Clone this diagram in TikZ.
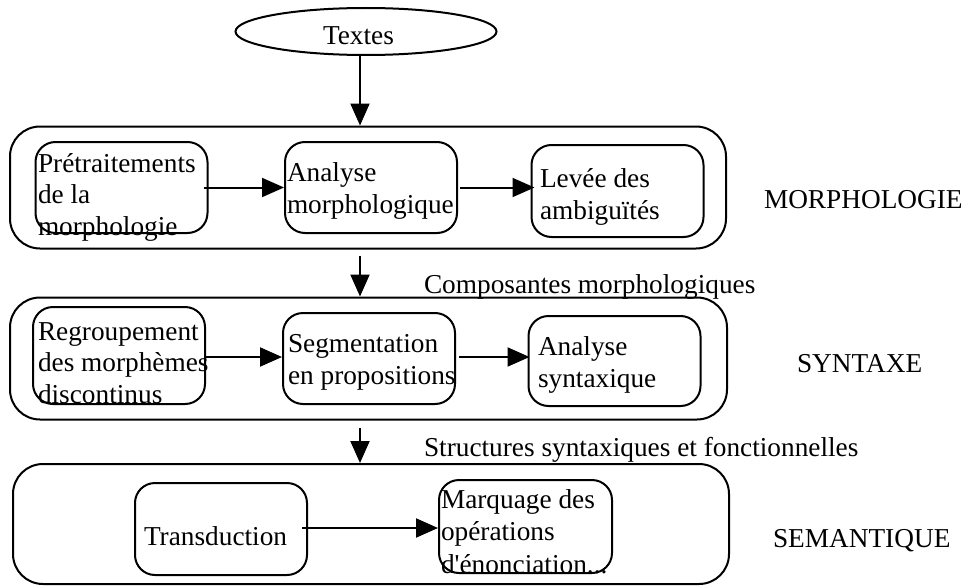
\documentclass[tikz,border=0pt]{standalone}
\usepackage{fontspec}
\setmainfont{Liberation Serif}
\usetikzlibrary{arrows.meta,shapes.geometric}
\begin{document}
\begin{tikzpicture}[x=1pt,y=-1pt,
  line width=2pt,
  outerbox/.style={draw,rounded corners=30pt,minimum width=716pt,minimum height=122pt,inner sep=0pt},
  stepbox/.style={draw,rounded corners=20pt,minimum width=172pt,minimum height=91pt,inner sep=0pt},
  txt/.style={anchor=base west,inner sep=0pt,align=left,font=\fontsize{27.3}{31.5}\selectfont},
  arr/.style={-{Triangle[length=22pt,width=19pt]}}]
\useasboundingbox (0,0) rectangle (966,586);

% input
\node[draw,ellipse,minimum width=261pt,minimum height=47pt,inner sep=0pt] (textes) at (366,31.5) {};
\node[txt] (ttextes) at (322,45) {Textes};

% outer layers
\node[outerbox] (morph) at (368,187.5) {};
\node[outerbox,minimum width=717pt] (syn) at (368.5,358.5) {};
\node[outerbox,minimum height=120pt] (sem) at (371,524) {};

% morphology steps (text nodes are placed by the baseline of their last line)
\node[stepbox] (m1) at (121.5,187.5) {};
\node[stepbox] (m2) at (371,187.5) {};
\node[stepbox,minimum height=92pt] (m3) at (617.5,191) {};
\node[txt] (tm1) at (37,235) {Prétraitements\\de la\\morphologie};
\node[txt] (tm2) at (286,213) {Analyse\\morphologique};
\node[txt] (tm3) at (539,219) {Levée des\\ambiguïtés};
\node[txt] (lmorph) at (763,208) {MORPHOLOGIE};

% syntax steps
\node[stepbox,minimum height=97pt] (s1) at (119,355.5) {};
\node[stepbox] (s2) at (369,358.5) {};
\node[stepbox,minimum height=90pt] (s3) at (614.5,361) {};
\node[txt] (ts1) at (37,403) {Regroupement\\des morphèmes\\discontinus};
\node[txt] (ts2) at (287,384) {Segmentation\\en propositions};
\node[txt] (ts3) at (537,387) {Analyse\\syntaxique};
\node[txt] (lsyn) at (796,372) {SYNTAXE};

% semantic steps
\node[stepbox,minimum height=92pt] (e1) at (221,529) {};
\node[stepbox,minimum width=173pt,minimum height=93pt] (e2) at (525.5,526.5) {};
\node[txt] (te1) at (143,545) {Transduction};
\node[txt,font=\fontsize{27.3}{32.5}\selectfont] (te2) at (440,573) {Marquage des\\opérations\\d\textquotesingle énonciation...};
\node[txt] (lsem) at (772,547) {SEMANTIQUE};

% flow labels
\node[txt] (c1) at (423,293) {Composantes morphologiques};
\node[txt] (c2) at (423,456) {Structures syntaxiques et fonctionnelles};

% vertical flow
\coordinate (ax) at (360,0);
\draw[arr] (textes.south -| ax) -- (morph.north -| ax);
\draw[arr] ([yshift=-6pt]morph.south -| ax) -- (syn.north -| ax);
\draw[arr] ([yshift=-7pt]syn.south -| ax) -- (sem.north -| ax);

% horizontal flow
\draw[arr] ([xshift=-5pt]m1.east) -- (m2.west);
\draw[arr] ([xshift=2pt]m2.east) -- ([xshift=4pt]m3.west |- m2.east);
\draw[arr] (s1.east |- 0,357) -- (s2.west |- 0,357);
\draw[arr] ([xshift=3pt]s2.east |- 0,357) -- ([xshift=2pt]s3.west |- 0,357);
\draw[arr] ([xshift=-6pt]e1.east |- 0,528) -- (e2.west |- 0,528);
\end{tikzpicture}
\end{document}
